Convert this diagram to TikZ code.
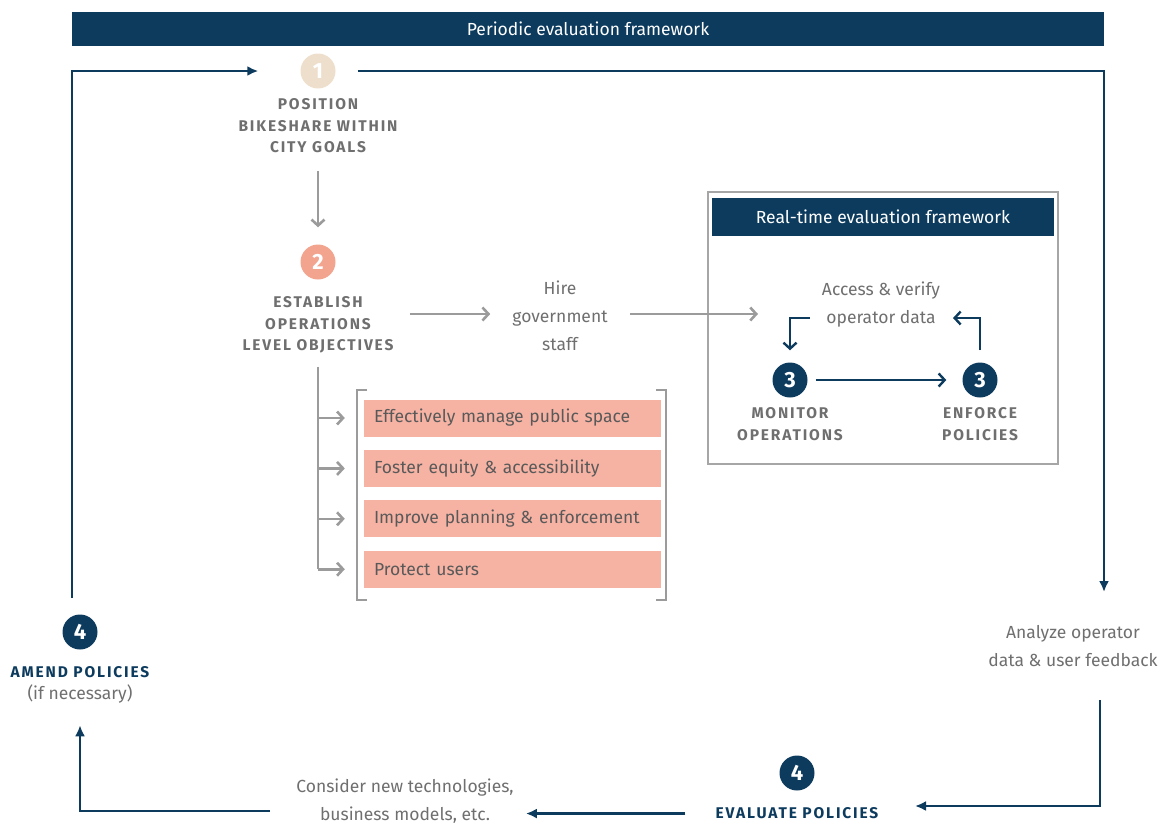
\documentclass[tikz,border=0pt]{standalone}
\usepackage{fontspec}
\setmainfont{Fira Sans}
\usetikzlibrary{positioning,arrows,arrows.meta,shapes}
\definecolor{navy}{HTML}{0D3B5E}
\definecolor{txtgray}{HTML}{6F6F6F}
\definecolor{linegray}{HTML}{9B9B9B}
\definecolor{beige}{HTML}{EEDFCC}
\definecolor{coral}{HTML}{F2A48F}
\definecolor{salmon}{HTML}{F6B3A4}
\newcommand{\capsfont}{\fontsize{15.5}{21.5}\selectfont\bfseries\addfontfeatures{LetterSpace=12}}
\newcommand{\bodyfont}{\fontsize{17.5}{28}\selectfont}
\tikzstyle{banner} = [rectangle, fill=navy, text=white, inner sep=0pt, font=\bodyfont]
\tikzstyle{num} = [circle, minimum size=35pt, inner sep=0pt, text=white, font=\fontsize{22}{22}\selectfont\bfseries]
\tikzstyle{caps} = [align=center, inner sep=0pt, text=txtgray, font=\capsfont]
\tikzstyle{body} = [align=center, inner sep=0pt, text=txtgray, font=\bodyfont]
\tikzstyle{goal} = [rectangle, fill=salmon, minimum width=297pt, minimum height=37pt, text width=277pt, inner xsep=10pt, align=left, text=black!65, font=\bodyfont]
\tikzstyle{line} = [draw, navy, line width=2.6pt, -{Latex[length=11pt,width=10pt]}]
\tikzstyle{nline} = [draw, navy, line width=2.4pt, -{Straight Barb[length=6pt,width=13pt]}]
\tikzstyle{gline} = [draw, linegray, line width=2.6pt, -{Straight Barb[length=6pt,width=13pt]}]

\begin{document}
\begin{tikzpicture}[x=1pt, y=-1pt, node distance=13pt]
    \useasboundingbox (0,0) rectangle (1161,823);
    % Frames
    \node [banner, minimum width=1032pt, minimum height=34pt] (periodic) at (588,29) {Periodic evaluation framework};
    \draw [black!35, line width=1.8pt] (708,192) rectangle (1058,464);
    \node [banner, minimum width=342pt, minimum height=38pt] (realtime) at (883,217) {Real-time evaluation framework};
    % Steps
    \node [num, fill=beige] (one) at (318,71) {1};
    \node [caps, below=10pt of one] (position) {POSITION\\BIKESHARE WITHIN\\CITY GOALS};
    \node [num, fill=coral] (two) at (318,262) {2};
    \node [caps, below=17pt of two] (establish) {ESTABLISH\\OPERATIONS\\LEVEL OBJECTIVES};
    \node [body] (hire) at (560,316) {Hire\\government\\staff};
    \node [body] (access) at (881,305) {Access \& verify\\operator data};
    \node [num, fill=navy] (monitor) at (790,380) {3};
    \node [caps, below=10pt of monitor] (monitorlbl) {MONITOR\\OPERATIONS};
    \node [num, fill=navy] (enforce) at (980,380) {3};
    \node [caps, below=10pt of enforce] (enforcelbl) {ENFORCE\\POLICIES};
    \node [body] (analyze) at (1073,646) {Analyze operator\\data \& user feedback};
    \node [num, fill=navy] (evaluate) at (797,773) {4};
    \node [caps, text=navy, below=17pt of evaluate] (evaluatelbl) {EVALUATE POLICIES};
    \node [body] (consider) at (405,801) {Consider new technologies,\\business models, etc.};
    \node [num, fill=navy] (amend) at (80,632) {4};
    \node [caps, text=navy, below=17pt of amend] (amendlbl) {AMEND POLICIES};
    \node [body, below=6pt of amendlbl] (amendnote) {(if necessary)};
    % Objectives
    \node [goal] (g1) at (512.5,418) {Effectively manage public space};
    \node [goal, below=of g1] (g2) {Foster equity \& accessibility};
    \node [goal, below=of g2] (g3) {Improve planning \& enforcement};
    \node [goal, below=of g3] (g4) {Protect users};
    \draw [linegray, line width=2.2pt] (367,390) -- (357,390) -- (357,600) -- (367,600);
    \draw [linegray, line width=2.2pt] (656,390) -- (666,390) -- (666,600) -- (656,600);
    % Coordinates
    \coordinate (amendtop) at (72,598);
    \coordinate (analyzetop) at (1104,592);
    \coordinate (analyzebot) at (1100,700);
    \coordinate (evalin) at (915,806);
    \coordinate (considerout) at (270,811);
    \coordinate (datain) at (953,318);
    \coordinate (dataout) at (810,318);
    \coordinate (boxin) at (758,314);
    % Lines
    \path [line] (amendtop) |- ([xshift=-42pt]one.west);
    \path [line] ([xshift=22pt]one.east) -| (analyzetop);
    \path [line] (analyzebot) |- (evalin);
    \path [line] ([xshift=-30pt]evaluatelbl.west) -- ([xshift=12pt]evaluatelbl.west -| consider.east);
    \path [line] (considerout) -| ([yshift=-22pt]amendnote.south);
    \path [gline] ([yshift=-18pt]position.south) -- ([yshift=17pt]two.north);
    \path [gline] ([xshift=16pt]establish.east |- boxin) -- ([xshift=-22pt]hire.west |- boxin);
    \path [gline] ([xshift=22pt]hire.east |- boxin) -- (boxin);
    \path [nline] (dataout) -| ([yshift=12pt]monitor.north);
    \path [nline] ([yshift=12pt]enforce.north) |- (datain);
    \path [nline] ([xshift=8pt]monitor.east) -- ([xshift=-16pt]enforce.west);
    \draw [linegray, line width=2.6pt] ([yshift=-13pt]establish.south) -- (establish.south |- g4.west);
    \foreach \g in {1,2,3,4}
        \path [gline] (establish.south |- g\g.west) -- ([xshift=-19pt]g\g.west);
\end{tikzpicture}
\end{document}
